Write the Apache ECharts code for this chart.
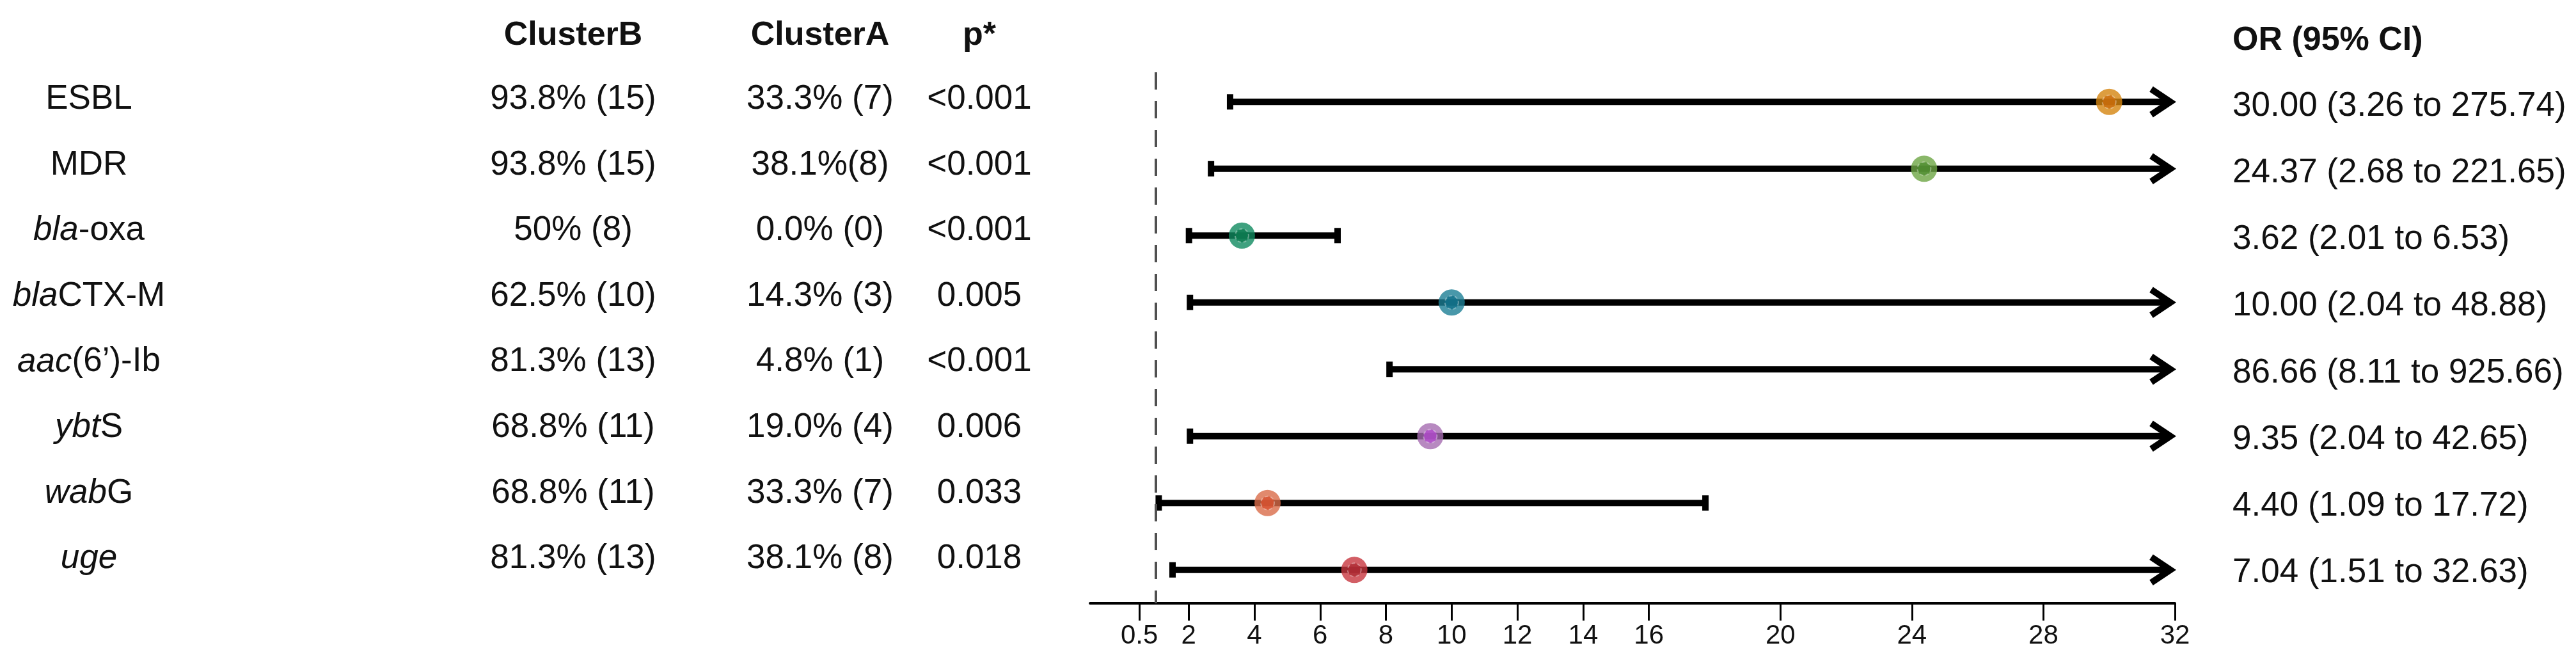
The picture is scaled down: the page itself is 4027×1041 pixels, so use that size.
<!DOCTYPE html>
<html>
<head>
<meta charset="utf-8">
<script src="https://cdn.jsdelivr.net/npm/echarts@6/dist/echarts.min.js"></script>
<style>
html,body{margin:0;padding:0;background:#fff;}
#chart{width:4027px;height:1041px;}
</style>
</head>
<body>
<div id="chart"></div>
<script>
const categories = ['ESBL', 'MDR', 'bla-oxa', 'blaCTX-M', 'aac(6\u2019)-Ib', 'ybtS', 'wabG', 'uge'];
const italicPart = ['', '', 'bla', 'bla', 'aac', 'ybt', 'wab', 'uge'];
const clusterB = ['93.8% (15)', '93.8% (15)', '50% (8)', '62.5% (10)', '81.3% (13)', '68.8% (11)', '68.8% (11)', '81.3% (13)'];
const clusterA = ['33.3% (7)', '38.1%(8)', '0.0% (0)', '14.3% (3)', '4.8% (1)', '19.0% (4)', '33.3% (7)', '38.1% (8)'];
const pValues = ['<0.001', '<0.001', '<0.001', '0.005', '<0.001', '0.006', '0.033', '0.018'];
const oddsRatio = [30.00, 24.37, 3.62, 10.00, 86.66, 9.35, 4.40, 7.04];
const ciLower = [3.26, 2.68, 2.01, 2.04, 8.11, 2.04, 1.09, 1.51];
const ciUpper = [275.74, 221.65, 6.53, 48.88, 925.66, 42.65, 17.72, 32.63];
const pointColors = ['#D4850F', '#6DA543', '#0F8A5F', '#1B7E95', '#888888', '#A56BB0', '#DA6C48', '#C7363F'];
const innerColors = ['#CB6C0B', '#4E8C2F', '#0C7A50', '#11708A', '#777777', '#B04ACA', '#D8512F', '#AE2A33'];
const tickValues = [0.5, 2, 4, 6, 8, 10, 12, 14, 16, 20, 24, 28, 32];
const axisMin = -1;
const axisMax = 32;
const refValue = 1;

const FONT = 'Liberation Sans';
const TXT = '#111';
const fs = 53;

const orText = oddsRatio.map((v, i) => v.toFixed(2) + ' (' + ciLower[i].toFixed(2) + ' to ' + ciUpper[i].toFixed(2) + ')');

const ciData = categories.map((c, i) => [ciLower[i], Math.min(ciUpper[i], axisMax), i, ciUpper[i] > axisMax ? 1 : 0]);
const pointData = [];
const innerData = [];
categories.forEach((c, i) => {
  if (oddsRatio[i] <= axisMax) {
    pointData.push({ value: [oddsRatio[i], i], itemStyle: { color: pointColors[i] } });
    innerData.push({ value: [oddsRatio[i], i], itemStyle: { color: innerColors[i] } });
  }
});

function labelFmt(v, i) {
  const it = italicPart[i];
  if (!it) return '{n|' + categories[i] + '}';
  const rest = categories[i].slice(it.length);
  return rest ? '{i|' + it + '}{n|' + rest + '}' : '{i|' + it + '}';
}

const tableLeft = 1600;
const colCenters = [139, 896, 1282, 1531];
const colTexts = [null, clusterB, clusterA, pValues];

const tableYAxes = colCenters.map((cx, k) => ({
  gridIndex: 1,
  type: 'category',
  inverse: true,
  data: categories,
  position: 'left',
  offset: tableLeft - cx,
  axisLine: { show: false },
  axisTick: { show: false },
  axisLabel: {
    interval: 0,
    margin: 0,
    align: 'center',
    fontFamily: FONT,
    fontSize: fs,
    color: TXT,
    formatter: k === 0 ? labelFmt : (v, i) => colTexts[k][i],
    rich: k === 0 ? {
      i: { fontFamily: FONT, fontSize: fs, color: TXT, fontStyle: 'italic' },
      n: { fontFamily: FONT, fontSize: fs, color: TXT }
    } : undefined
  }
}));

const headerStyle = { fontFamily: FONT, fontSize: 52, fontWeight: 'bold', color: TXT, lineHeight: 52 };

const option = {
  backgroundColor: '#fff',
  animation: false,
  title: [
    { text: 'ClusterB', left: 896, top: 30, textAlign: 'center', padding: 0, textStyle: headerStyle },
    { text: 'ClusterA', left: 1282, top: 30, textAlign: 'center', padding: 0, textStyle: headerStyle },
    { text: 'p*', left: 1531, top: 30, textAlign: 'center', padding: 0, textStyle: headerStyle },
    { text: 'OR (95% CI)', left: 3490, top: 38, textAlign: 'left', padding: 0, textStyle: headerStyle }
  ],
  grid: [
    { left: 1704, width: 1696, top: 107, height: 836 },
    { left: tableLeft, width: 100, top: 104, height: 821 },
    { left: 3300, width: 100, top: 114, height: 834 }
  ],
  xAxis: [
    {
      gridIndex: 0,
      type: 'value',
      min: axisMin,
      max: axisMax,
      axisLine: { show: true, lineStyle: { color: '#000', width: 4 } },
      axisTick: { show: true, customValues: tickValues, length: 27, lineStyle: { color: '#000', width: 3 } },
      axisLabel: { customValues: tickValues, margin: 30, fontFamily: FONT, fontSize: 42, color: TXT },
      splitLine: { show: false }
    },
    { gridIndex: 1, type: 'value', show: false },
    { gridIndex: 2, type: 'value', show: false }
  ],
  yAxis: [
    { gridIndex: 0, type: 'category', inverse: true, data: categories, show: false }
  ].concat(tableYAxes).concat([
    {
      gridIndex: 2,
      type: 'category',
      inverse: true,
      data: categories,
      position: 'right',
      axisLine: { show: false },
      axisTick: { show: false },
      axisLabel: {
        interval: 0,
        margin: 90,
        align: 'left',
        fontFamily: FONT,
        fontSize: fs,
        color: TXT,
        formatter: (v, i) => orText[i]
      }
    }
  ]),
  series: [
    {
      type: 'custom',
      xAxisIndex: 0,
      yAxisIndex: 0,
      z: 2,
      dimensions: [
        { name: 'lo', type: 'float' },
        { name: 'hi', type: 'float' },
        { name: 'row', type: 'ordinal' },
        { name: 'arrow', type: 'float' }
      ],
      encode: { x: ['lo', 'hi'], y: 'row' },
      data: ciData,
      renderItem: function (params, api) {
        const lo = api.value('lo'), hi = api.value('hi'), row = api.value('row'), arrow = api.value('arrow');
        const a = api.coord([lo, row]);
        const b = api.coord([hi, row]);
        const y = a[1];
        const children = [];
        const tip = b[0] - 7;
        children.push({
          type: 'line',
          shape: { x1: a[0], y1: y, x2: arrow ? tip - 5 : b[0], y2: y },
          style: { stroke: '#000', lineWidth: 10 }
        });
        children.push({ type: 'rect', shape: { x: a[0] - 5, y: y - 12, width: 10, height: 24 }, style: { fill: '#000' } });
        if (arrow) {
          children.push({
            type: 'polyline',
            shape: { points: [[tip - 30, y - 20], [tip, y], [tip - 30, y + 20]] },
            style: { stroke: '#000', lineWidth: 10, fill: null, lineJoin: 'miter' }
          });
        } else {
          children.push({ type: 'rect', shape: { x: b[0] - 5, y: y - 12, width: 10, height: 24 }, style: { fill: '#000' } });
        }
        return { type: 'group', children: children };
      }
    },
    {
      type: 'scatter',
      xAxisIndex: 0,
      yAxisIndex: 0,
      z: 3,
      symbol: 'circle',
      symbolSize: 41,
      data: pointData,
      markLine: {
        silent: true,
        symbol: 'none',
        label: { show: false },
        lineStyle: { type: [27, 18], dashOffset: -6, color: '#505050', width: 4 },
        data: [{ xAxis: refValue }]
      }
    },
    {
      type: 'scatter',
      xAxisIndex: 0,
      yAxisIndex: 0,
      z: 4,
      symbol: 'circle',
      symbolSize: 21,
      itemStyle: { borderColor: 'rgba(255,255,255,0.45)', borderWidth: 2, borderType: [5, 4] },
      data: innerData
    }
  ]
};

const chart = echarts.init(document.getElementById('chart'), null, { renderer: 'canvas' });
chart.setOption(option);
</script>
</body>
</html>
